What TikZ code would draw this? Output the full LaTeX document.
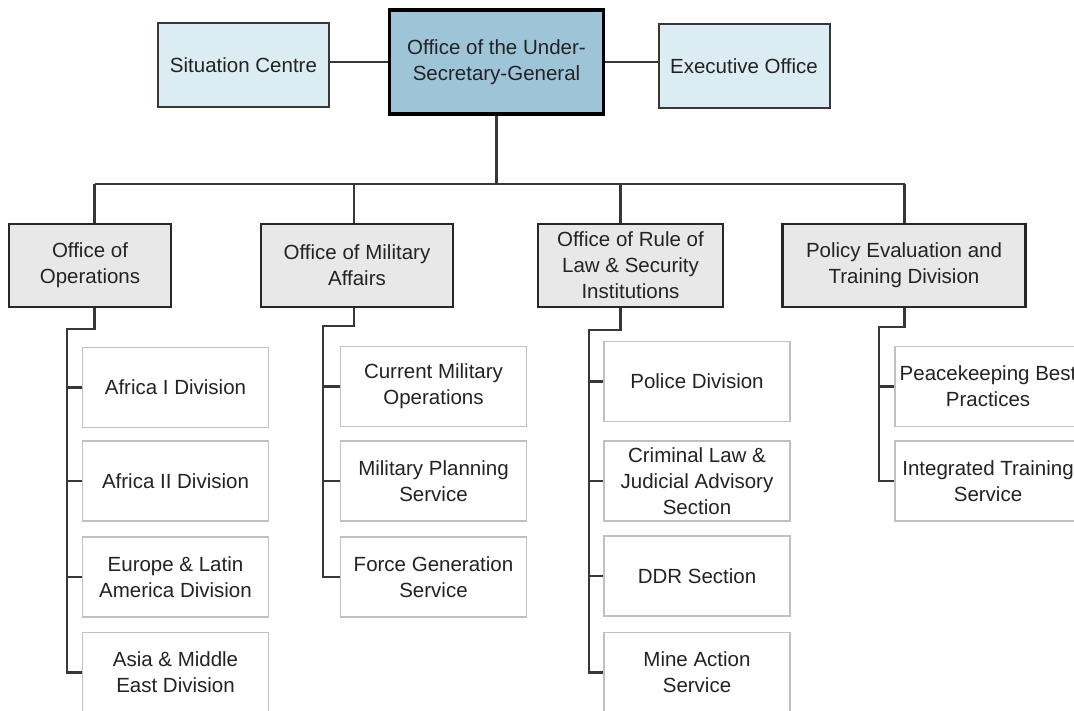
\documentclass[tikz,border=0pt]{standalone}
\usepackage{fontspec}
\setmainfont{Liberation Sans}
\definecolor{usgblue}{RGB}{158,196,216}
\definecolor{sideblue}{RGB}{219,237,243}
\definecolor{officegray}{RGB}{232,232,232}
\definecolor{unitgray}{RGB}{192,192,192}
\definecolor{linegray}{RGB}{55,55,55}
\definecolor{textgray}{RGB}{35,35,35}

\begin{document}
\begin{tikzpicture}[x=1pt, y=-1pt, font=\fontsize{20.5}{26}\selectfont, text=textgray,
    every node/.style={align=center, inner sep=0pt},
    usgbox/.style={draw=black, line width=3.5pt, fill=usgblue, minimum width=214pt, minimum height=104pt},
    sidebox/.style={draw=linegray, line width=2pt, fill=sideblue, minimum width=171pt, minimum height=84pt},
    officebox/.style={draw=linegray!70!black, line width=2.2pt, fill=officegray, minimum height=83pt},
    unitbox/.style={draw=unitgray, line width=1.5pt, fill=white, minimum width=186pt, minimum height=80pt},
    link/.style={draw=linegray, line width=2.2pt}]
    \useasboundingbox (0,0) rectangle (1074,711);

    % top row
    \node[sidebox] (sit) at (243.5,65.5) {Situation Centre};
    \node[usgbox]  (usg) at (496.5,62)   {Office of the Under-\\Secretary-General};
    \node[sidebox] (exe) at (744,66)     {Executive Office};

    % offices
    \node[officebox, minimum width=162pt] (ops) at (90,265.5)  {Office of\\Operations};
    \node[officebox, minimum width=192pt] (mil) at (357,265.5) {Office of Military\\Affairs};
    \node[officebox, minimum width=185pt] (rol) at (630.5,265.5) {Office of Rule of\\Law \& Security\\Institutions};
    \node[officebox, minimum width=243pt] (pol) at (904,265.5) {Policy Evaluation and\\Training Division};

    % units
    \node[unitbox] (ops1) at (175.5,387.5) {Africa I Division};
    \node[unitbox] (ops2) at (175.5,481)   {Africa II Division};
    \node[unitbox] (ops3) at (175.5,577)   {Europe \& Latin\\America Division};
    \node[unitbox] (ops4) at (175.5,672.5) {Asia \& Middle\\East Division};

    \node[unitbox] (mil1) at (433.5,386.5) {Current Military\\Operations};
    \node[unitbox] (mil2) at (433.5,481)   {Military Planning\\Service};
    \node[unitbox] (mil3) at (433.5,577)   {Force Generation\\Service};

    \node[unitbox] (rol1) at (697,381.5) {Police Division};
    \node[unitbox] (rol2) at (697,481)   {Criminal Law \&\\Judicial Advisory\\Section};
    \node[unitbox] (rol3) at (697,576)   {DDR Section};
    \node[unitbox] (rol4) at (697,672.5) {Mine Action\\Service};

    \node[unitbox] (pol1) at (988,386.5) {Peacekeeping Best\\Practices};
    \node[unitbox] (pol2) at (988,481)   {Integrated Training\\Service};

    % links
    \draw[link] (usg.west) -- (usg.west -| sit.east);
    \draw[link] (usg.east) -- (usg.east -| exe.west);
    \coordinate (bus) at (0,184);
    \draw[link] (usg.south) -- (usg.south |- bus);

    \foreach \p/\x/\k/\s/\n in {ops/94.5/329/67/4, mil/354/326/323/3, rol/620.5/330/589/4, pol/904.5/327/879/2} {
      \coordinate (top\p) at (\x,184);
      \coordinate (bend\p) at (\s,\k);
      \draw[link] (top\p) -- (top\p |- \p.north);
      \draw[link] (top\p |- \p.south) |- (bend\p) |- (\p\n.west);
      \foreach \i in {1,...,\n} {
        \draw[link] (\p\i.west) -- (\p\i.west -| bend\p);
      }
    }
    \draw[link] (topops) -- (toppol);

\end{tikzpicture}
\end{document}
